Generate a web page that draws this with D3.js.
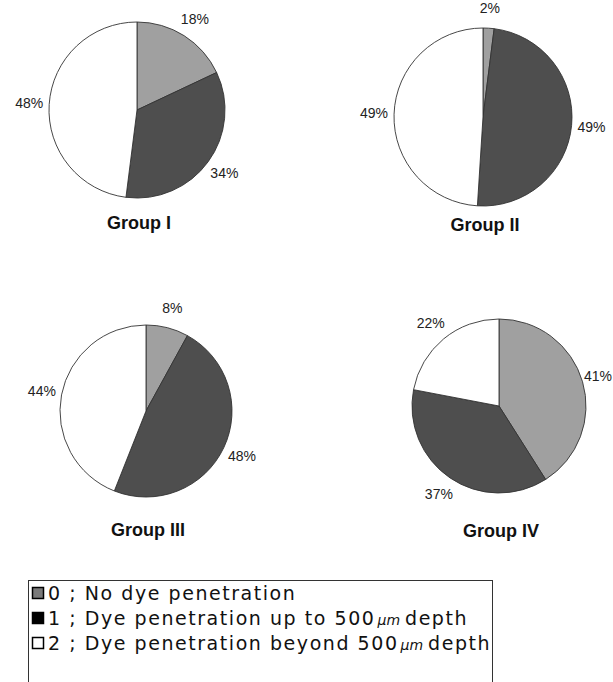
<!DOCTYPE html>
<html>
<head>
<meta charset="utf-8">
<script src="https://cdn.jsdelivr.net/npm/d3@7"></script>
<style>
  body { margin: 0; background: #fff; }
  svg { display: block; }
  .pct { font-family: "Liberation Sans", Arial, sans-serif; font-size: 14px; fill: #222; }
  .grp { font-family: "Liberation Sans Narrow", "Liberation Sans", Arial, sans-serif; font-size: 18px; font-weight: bold; fill: #111; }
  .leg { font-family: "DejaVu Sans", sans-serif; font-size: 19px; letter-spacing: 1.55px; fill: #111; }
</style>
</head>
<body>
<div id="chart"></div>
<script>
// score categories (0, 1, 2)
var categories = ["0", "1", "2"];
var groupNames = ["Group I", "Group II", "Group III", "Group IV"];

// percentages per group, in category order
var groupI = [18, 34, 48];
var groupII = [2, 49, 49];
var groupIII = [8, 48, 44];
var groupIV = [41, 37, 22];

var legendLabels = [
	"0 ; No dye penetration",
	"1 ; Dye penetration up to 500",
	"2 ; Dye penetration beyond 500"
];

var W = 613, H = 682;

var svg = d3.select("#chart")
	.append("svg")
	.attr("width", W)
	.attr("height", H);

var color = d3.scaleOrdinal()
	.domain(categories)
	.range(["#a0a0a0", "#4e4e4e", "#ffffff"]);

// where each pie sits
var layout = [
	{cx: 137, cy: 110, r: 88, ty: 229},
	{cx: 483, cy: 117, r: 89, ty: 231},
	{cx: 146, cy: 411, r: 86, ty: 536},
	{cx: 499, cy: 406, r: 87, ty: 537}
];

var allData = [groupI, groupII, groupIII, groupIV];

var pie = d3.pie().sort(null).value(function(d) { return d; });

allData.forEach(function(values, i) {
	var L = layout[i];
	var arc = d3.arc().innerRadius(0).outerRadius(L.r);
	var labelArc = d3.arc().innerRadius(L.r + 20).outerRadius(L.r + 20);

	var g = svg.append("g")
		.attr("transform", "translate(" + L.cx + "," + L.cy + ")");

	var slices = pie(values);

	g.selectAll("path")
		.data(slices)
		.enter()
		.append("path")
		.attr("d", arc)
		.attr("fill", function(d, j) { return color(categories[j]); })
		.attr("stroke", "#333")
		.attr("stroke-width", 0.9);

	g.selectAll("text")
		.data(slices)
		.enter()
		.append("text")
		.attr("class", "pct")
		.attr("transform", function(d) {
			var p = labelArc.centroid(d);
			// keep labels inside the page
			p[0] = Math.min(p[0], W - L.cx - 15);
			return "translate(" + p + ")";
		})
		.attr("text-anchor", "middle")
		.attr("dy", "0.35em")
		.text(function(d) { return d.value + "%"; });

	svg.append("text")
		.attr("class", "grp")
		.attr("x", L.cx + 2)
		.attr("y", L.ty)
		.attr("text-anchor", "middle")
		.text(groupNames[i]);
});

// legend box (bottom edge runs off the page)
var legend = svg.append("g");
legend.append("rect")
	.attr("x", 28.5)
	.attr("y", 580.5)
	.attr("width", 464)
	.attr("height", 120)
	.attr("fill", "none")
	.attr("stroke", "#333")
	.attr("stroke-width", 1);

var rowY = d3.scalePoint()
	.domain(categories)
	.range([593, 643]);

var swatch = ["#7a7a7a", "#000000", "#ffffff"];

categories.forEach(function(c, i) {
	var y = rowY(c);
	legend.append("rect")
		.attr("x", 32.5)
		.attr("y", y - 5.5)
		.attr("width", 11)
		.attr("height", 11)
		.attr("fill", swatch[i])
		.attr("stroke", "#000")
		.attr("stroke-width", 1.5);

	var t = legend.append("text")
		.attr("class", "leg")
		.attr("x", 48)
		.attr("y", y)
		.attr("dy", "0.36em")
		.text(legendLabels[i]);
	if (i > 0) {
		t.append("tspan")
			.style("font-style", "italic")
			.style("font-size", "14px")
			.style("letter-spacing", "0px")
			.attr("dx", 2)
			.text("\u03bcm");
		t.append("tspan")
			.attr("dx", 5)
			.text("depth");
	}
});
</script>
</body>
</html>
